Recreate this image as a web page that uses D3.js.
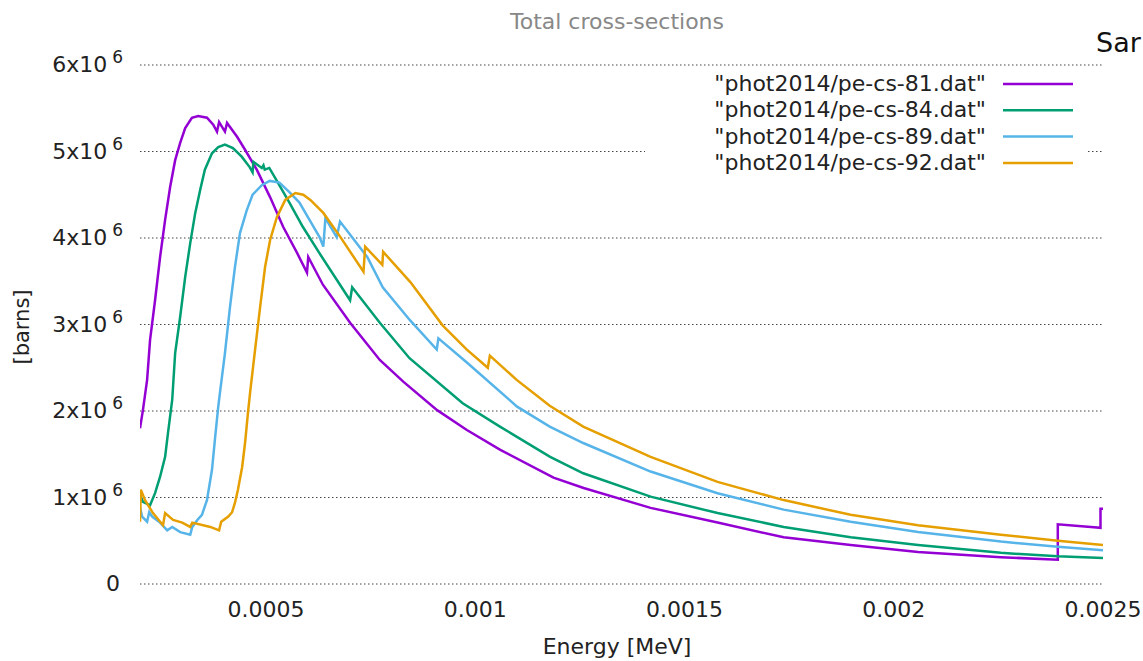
<!DOCTYPE html>
<html>
<head>
<meta charset="utf-8">
<script src="https://cdn.jsdelivr.net/npm/d3@7"></script>
<style>
  body { margin: 0; background: #fff; overflow: hidden; }
  text { font-family: "DejaVu Sans", Verdana, sans-serif; }
</style>
</head>
<body>
<svg id="chart" width="1143" height="661"></svg>
<script>

// energies in MeV, cross-sections in barns
var e81 = [0.000199, 0.000206, 0.000216, 0.000223, 0.000235, 0.000247, 0.000259, 0.000271, 0.000283, 0.000295,
    0.000307, 0.000323, 0.000338, 0.000359, 0.000374, 0.000383, 0.000388, 0.000402, 0.000407, 0.000431,
    0.000450, 0.000478, 0.000510, 0.000541, 0.000574, 0.000598, 0.000601, 0.000636, 0.000701, 0.000772,
    0.000828, 0.000909, 0.000980, 0.001060, 0.001187, 0.001259, 0.001419, 0.001579, 0.001737, 0.001897,
    0.002058, 0.002256, 0.002392, 0.002392, 0.002471, 0.002494, 0.002494, 0.0025];
var cs81 = [1.80e6, 2.01e6, 2.36e6, 2.82e6, 3.28e6, 3.78e6, 4.21e6, 4.59e6, 4.90e6, 5.10e6,
    5.27e6, 5.39e6, 5.41e6, 5.39e6, 5.31e6, 5.23e6, 5.34e6, 5.23e6, 5.33e6, 5.17e6,
    5.02e6, 4.79e6, 4.47e6, 4.13e6, 3.83e6, 3.60e6, 3.78e6, 3.46e6, 3.02e6, 2.59e6,
    2.34e6, 2.01e6, 1.78e6, 1.55e6, 1.23e6, 1.11e6, 0.88e6, 0.71e6, 0.54e6, 0.45e6,
    0.37e6, 0.31e6, 0.28e6, 0.69e6, 0.66e6, 0.65e6, 0.87e6, 0.87e6];

var e84 = [0.000199, 0.000206, 0.000223, 0.000235, 0.000247, 0.000259, 0.000266, 0.000276, 0.000283, 0.000295,
    0.000307, 0.000319, 0.000331, 0.000343, 0.000354, 0.000371, 0.000386, 0.000402, 0.000421, 0.000442,
    0.000461, 0.000468, 0.000470, 0.000490, 0.000494, 0.000497, 0.000508, 0.000525, 0.000556, 0.000588,
    0.000627, 0.000701, 0.000706, 0.000772, 0.000843, 0.000970, 0.001059, 0.001179, 0.001258, 0.001419,
    0.001579, 0.001737, 0.001897, 0.002058, 0.002256, 0.002392, 0.0025];
var cs84 = [1.03e6, 0.95e6, 0.91e6, 1.05e6, 1.24e6, 1.47e6, 1.75e6, 2.13e6, 2.67e6, 3.09e6,
    3.55e6, 3.94e6, 4.29e6, 4.56e6, 4.79e6, 4.98e6, 5.05e6, 5.08e6, 5.04e6, 4.94e6,
    4.82e6, 4.76e6, 4.88e6, 4.81e6, 4.84e6, 4.79e6, 4.81e6, 4.67e6, 4.41e6, 4.13e6,
    3.83e6, 3.28e6, 3.43e6, 3.02e6, 2.61e6, 2.09e6, 1.82e6, 1.47e6, 1.28e6, 1.01e6,
    0.82e6, 0.66e6, 0.54e6, 0.45e6, 0.36e6, 0.32e6, 0.30e6];

var e89 = [0.000199, 0.000204, 0.000216, 0.000221, 0.000228, 0.000247, 0.000264, 0.000276, 0.000295, 0.000319,
    0.000324, 0.000336, 0.000347, 0.000359, 0.000371, 0.000378, 0.000386, 0.000390, 0.000402, 0.000414,
    0.000426, 0.000438, 0.000454, 0.000468, 0.000490, 0.000509, 0.000532, 0.000556, 0.000580, 0.000604,
    0.000628, 0.000637, 0.000642, 0.000669, 0.000677, 0.000742, 0.000779, 0.000844, 0.000908, 0.000912,
    0.000980, 0.001100, 0.001178, 0.001258, 0.001419, 0.001579, 0.001737, 0.001897, 0.002058, 0.002256,
    0.002392, 0.0025];
var cs89 = [0.89e6, 0.78e6, 0.72e6, 0.83e6, 0.78e6, 0.71e6, 0.62e6, 0.66e6, 0.60e6, 0.57e6,
    0.66e6, 0.74e6, 0.80e6, 0.97e6, 1.32e6, 1.67e6, 2.05e6, 2.21e6, 2.67e6, 3.20e6,
    3.67e6, 4.06e6, 4.32e6, 4.50e6, 4.61e6, 4.66e6, 4.64e6, 4.53e6, 4.41e6, 4.21e6,
    4.01e6, 3.90e6, 4.23e6, 4.01e6, 4.19e6, 3.78e6, 3.43e6, 3.05e6, 2.71e6, 2.84e6,
    2.56e6, 2.05e6, 1.82e6, 1.63e6, 1.30e6, 1.05e6, 0.86e6, 0.72e6, 0.60e6, 0.49e6,
    0.43e6, 0.39e6];

var e92 = [0.000199, 0.000201, 0.000211, 0.000230, 0.000254, 0.000259, 0.000278, 0.000300, 0.000319, 0.000324,
    0.000367, 0.000388, 0.000393, 0.000410, 0.000419, 0.000426, 0.000433, 0.000443, 0.000450, 0.000457,
    0.000462, 0.000474, 0.000486, 0.000498, 0.000510, 0.000526, 0.000546, 0.000570, 0.000589, 0.000606,
    0.000637, 0.000678, 0.000733, 0.000737, 0.000778, 0.000780, 0.000845, 0.000922, 0.000980, 0.001030,
    0.001035, 0.001099, 0.001178, 0.001258, 0.001419, 0.001579, 0.001737, 0.001897, 0.002058, 0.002256,
    0.002392, 0.0025];
var cs92 = [0.72e6, 1.09e6, 0.97e6, 0.82e6, 0.68e6, 0.82e6, 0.74e6, 0.71e6, 0.66e6, 0.71e6,
    0.66e6, 0.62e6, 0.72e6, 0.78e6, 0.83e6, 0.94e6, 1.09e6, 1.35e6, 1.63e6, 1.98e6,
    2.21e6, 2.71e6, 3.20e6, 3.67e6, 3.98e6, 4.24e6, 4.44e6, 4.52e6, 4.50e6, 4.44e6,
    4.29e6, 4.01e6, 3.61e6, 3.90e6, 3.69e6, 3.84e6, 3.49e6, 2.99e6, 2.71e6, 2.50e6,
    2.64e6, 2.36e6, 2.06e6, 1.82e6, 1.47e6, 1.18e6, 0.97e6, 0.80e6, 0.68e6, 0.57e6,
    0.50e6, 0.45e6];

var seriesNames = ['"phot2014/pe-cs-81.dat"', '"phot2014/pe-cs-84.dat"', '"phot2014/pe-cs-89.dat"', '"phot2014/pe-cs-92.dat"'];
var seriesColors = ["#9400d3", "#009e73", "#56b4e9", "#e69f00"];

var xTicks = [0.0005, 0.001, 0.0015, 0.002, 0.0025];
var xTickLabels = ["0.0005", "0.001", "0.0015", "0.002", "0.0025"];
var yTicks = [0, 1e6, 2e6, 3e6, 4e6, 5e6, 6e6];
var yTickMant = ["0", "1x10", "2x10", "3x10", "4x10", "5x10", "6x10"];


// plot box (window.top is taken, so prefix the names)
var plotLeft = 140, plotRight = 1103, plotTop = 65, plotBottom = 584;

var x = d3.scaleLinear().domain([0.000199, 0.0025]).range([plotLeft, plotRight]);
var y = d3.scaleLinear().domain([0, 6e6]).range([plotBottom, plotTop]);

var svg = d3.select("#chart");

// dotted horizontal grid
svg.append("g").selectAll("line")
    .data(yTicks)
    .enter()
    .append("line")
    .attr("x1", plotLeft)
    .attr("x2", plotRight)
    .attr("y1", function(d) { return y(d); })
    .attr("y2", function(d) { return y(d); })
    .attr("stroke", "#444")
    .attr("stroke-width", 1)
    .attr("stroke-dasharray", "1.5,2.5");

// y tick labels, with raised exponent
var yl = svg.append("g").selectAll("text")
    .data(yTicks)
    .enter()
    .append("text")
    .attr("x", function(d) { return d === 0 ? 120 : 123; })
    .attr("y", function(d) { return y(d) + 7; })
    .attr("text-anchor", "end")
    .attr("font-size", 22)
    .attr("fill", "#222");
yl.append("tspan").text(function(d, i) { return yTickMant[i]; });
yl.filter(function(d) { return d !== 0; })
    .append("tspan")
    .attr("dx", 5)
    .attr("dy", -9)
    .attr("font-size", 17)
    .text("6");

// x tick labels
svg.append("g").selectAll("text")
    .data(xTicks)
    .enter()
    .append("text")
    .attr("x", function(d) { return x(d); })
    .attr("y", plotBottom + 33)
    .attr("text-anchor", "middle")
    .attr("font-size", 22)
    .attr("fill", "#222")
    .text(function(d, i) { return xTickLabels[i]; });

// titles
svg.append("text")
    .attr("x", 617).attr("y", 29)
    .attr("text-anchor", "middle")
    .attr("font-size", 22)
    .attr("fill", "#888")
    .text("Total cross-sections");

svg.append("text")
    .attr("x", 617).attr("y", 654)
    .attr("text-anchor", "middle")
    .attr("font-size", 22)
    .attr("fill", "#222")
    .text("Energy [MeV]");

svg.append("text")
    .attr("transform", "translate(29,327) rotate(-90)")
    .attr("text-anchor", "middle")
    .attr("font-size", 21)
    .attr("fill", "#222")
    .text("[barns]");

// the cut-off word at the top right corner
svg.append("text")
    .attr("x", 1096).attr("y", 52)
    .attr("font-family", "Lato, 'Open Sans', sans-serif")
    .attr("font-size", 27)
    .attr("fill", "#111")
    .text("Sar");

// curves
svg.append("clipPath").attr("id", "plotclip")
    .append("rect")
    .attr("x", plotLeft).attr("y", plotTop - 10)
    .attr("width", plotRight - plotLeft).attr("height", plotBottom - plotTop + 10);

var line = d3.line()
    .x(function(d) { return x(d[0]); })
    .y(function(d) { return y(d[1]); });

var allSeries = [d3.zip(e81, cs81), d3.zip(e84, cs84), d3.zip(e89, cs89), d3.zip(e92, cs92)];

svg.append("g")
    .attr("clip-path", "url(#plotclip)")
    .selectAll("path")
    .data(allSeries)
    .enter()
    .append("path")
    .attr("d", line)
    .attr("fill", "none")
    .attr("stroke", function(d, i) { return seriesColors[i]; })
    .attr("stroke-width", 2.5)
    .attr("stroke-linejoin", "miter");

// legend, opaque box hides the grid behind it
var legend = svg.append("g");
legend.append("rect")
    .attr("x", 645).attr("y", 69)
    .attr("width", 443).attr("height", 104)
    .attr("fill", "#fff");

var rowY = function(i) { return 84 + i * 26.3; };

legend.selectAll("text")
    .data(seriesNames)
    .enter()
    .append("text")
    .attr("x", 986)
    .attr("y", function(d, i) { return rowY(i) + 7; })
    .attr("text-anchor", "end")
    .attr("font-size", 22)
    .attr("fill", "#222")
    .text(function(d) { return d; });

legend.selectAll("line")
    .data(seriesNames)
    .enter()
    .append("line")
    .attr("x1", 1003).attr("x2", 1073)
    .attr("y1", function(d, i) { return rowY(i); })
    .attr("y2", function(d, i) { return rowY(i); })
    .attr("stroke", function(d, i) { return seriesColors[i]; })
    .attr("stroke-width", 2.5);

</script>
</body>
</html>
